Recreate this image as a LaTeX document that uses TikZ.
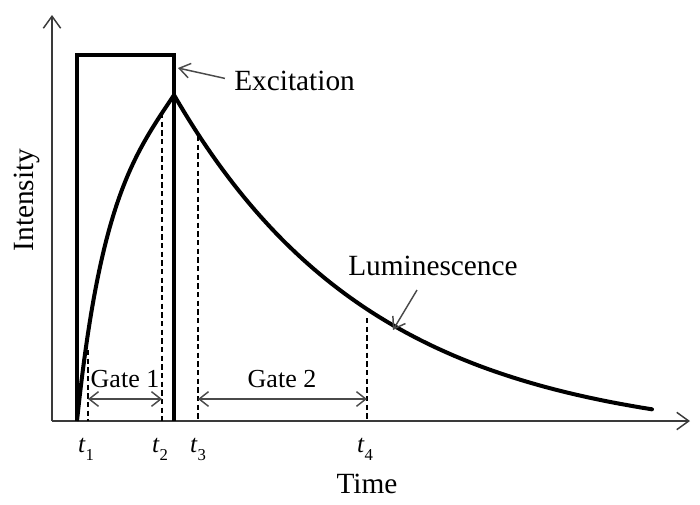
\documentclass[tikz,border=0pt]{standalone}
\usepackage{fontspec}
\setmainfont{Liberation Serif}
\usetikzlibrary{arrows.meta}
\definecolor{axisgray}{HTML}{3A3A3A}
\definecolor{ptrgray}{HTML}{4A4A4A}
\begin{document}
\begin{tikzpicture}[x=0.75pt,y=-0.75pt,
  axisline/.style={draw=axisgray,line width=1.1pt,-{Straight Barb[length=9pt,width=13pt,line width=1.1pt]}},
  curveline/.style={draw=black,line width=3pt,line join=miter},
  dashline/.style={draw=black,line width=0.9pt,dash pattern=on 4pt off 2.5pt},
  gatearrow/.style={draw=ptrgray,line width=1.1pt,{Straight Barb[length=7pt,width=11pt,line width=1.1pt]}-{Straight Barb[length=7pt,width=11pt,line width=1.1pt]}},
  ptr/.style={draw=ptrgray,line width=1.1pt,-{Straight Barb[length=8pt,width=11pt,line width=1.1pt]}},
  lbl/.style={inner sep=0pt,font=\fontsize{22}{26}\selectfont},
  gatelbl/.style={inner sep=0pt,font=\fontsize{19.5}{23}\selectfont},
  tlbl/.style={inner sep=0pt,font=\fontsize{19}{22}\selectfont}
]
\useasboundingbox (0,0) rectangle (700,504);
% axes
\coordinate (o) at (52,421);
\coordinate (ytip) at (52,15);
\coordinate (xtip) at (690,421);
\draw[axisline] (o) -- (ytip);
\draw[axisline] (o) -- (xtip);
% excitation pulse
\coordinate (p0) at (77,421);
\coordinate (p1) at (77,55);
\coordinate (p2) at (174,55);
\coordinate (p3) at (174,421);
\draw[curveline] (p0) -- (p1) -- (p2) -- (p3);
% luminescence rise
\coordinate (peak) at (174,95);
\draw[curveline] (p0) .. controls (100,200) and (134,155) .. (peak);
% luminescence decay
\draw[curveline,line cap=round] plot[domain=174:652,samples=90] (\x,{421-(346*exp(-(\x-174)/200)-20)});
% dashed gate markers
\coordinate (d1t) at (88,350); \coordinate (d1b) at (88,421);
\coordinate (d2t) at (162,113); \coordinate (d2b) at (162,421);
\coordinate (d3t) at (198,136); \coordinate (d3b) at (198,421);
\coordinate (d4t) at (367,318); \coordinate (d4b) at (367,421);
\draw[dashline] (d1t) -- (d1b);
\draw[dashline] (d2t) -- (d2b);
\draw[dashline] (d3t) -- (d3b);
\draw[dashline] (d4t) -- (d4b);
% gate arrows
\coordinate (g1a) at (88,399); \coordinate (g1b) at (162,399);
\coordinate (g2a) at (198,399); \coordinate (g2b) at (367,399);
\draw[gatearrow] (g1a) -- (g1b);
\draw[gatearrow] (g2a) -- (g2b);
\node[gatelbl,anchor=base] (gate1) at (125,387) {Gate 1};
\node[gatelbl,anchor=base] (gate2) at (282,387) {Gate 2};
% time labels
\node[tlbl,anchor=base] (t1) at (86,452) {\textit{t}\raisebox{-6pt}{\fontsize{12.5}{13}\selectfont 1}};
\node[tlbl,anchor=base] (t2) at (160,452) {\textit{t}\raisebox{-6pt}{\fontsize{12.5}{13}\selectfont 2}};
\node[tlbl,anchor=base] (t3) at (198,452) {\textit{t}\raisebox{-6pt}{\fontsize{12.5}{13}\selectfont 3}};
\node[tlbl,anchor=base] (t4) at (365,452) {\textit{t}\raisebox{-6pt}{\fontsize{12.5}{13}\selectfont 4}};
% axis titles
\node[lbl,anchor=base] (time) at (367,493) {Time};
\node[lbl,anchor=base,rotate=90] (inten) at (33,200) {Intensity};
% annotations
\node[lbl,anchor=base west] (exc) at (234,90) {Excitation};
\coordinate (excTip) at (178,68);
\draw[ptr,shorten <=7pt] (exc.west) -- (excTip);
\node[lbl,anchor=base west] (lum) at (348,275) {Luminescence};
\coordinate (lumTail) at (417,290);
\coordinate (lumTip) at (393,330);
\draw[ptr] (lumTail) -- (lumTip);
\end{tikzpicture}
\end{document}
